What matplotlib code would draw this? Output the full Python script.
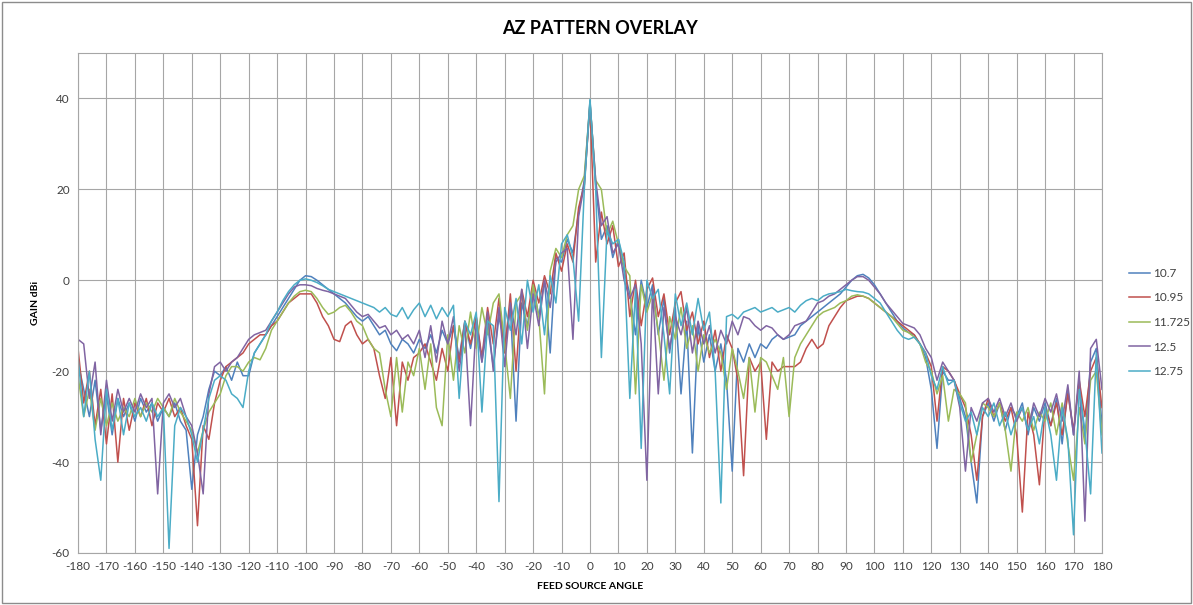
import numpy as np
import matplotlib
matplotlib.use("Agg")
import matplotlib.pyplot as plt
from matplotlib.patches import Rectangle

# ---------------- data ----------------
angles = list(range(-180, 181, 2))
series_names = ["10.7", "10.95", "11.725", "12.5", "12.75"]
series_colors = ["#4F81BD", "#C0504D", "#9BBB59", "#8064A2", "#4BACC6"]

gain_10_7 = [
    -18, -24, -30, -22, -33,   -25, -34, -26, -30, -27,
    -31, -26, -29, -27, -31,   -28, -30, -27, -31, -33,
    -46, -34, -30, -24, -20,   -21, -19, -22, -18, -21,
    -21, -16, -14, -12, -10,   -8, -6, -4, -2, 0,
    1, 0.8, 0, -1, -2,         -3, -4, -5, -6.5, -8,
    -9, -8, -10, -12, -11,     -14, -15.5, -13, -14, -16,
    -13, -15, -12, -16, -11,   -14, -10, -17, -9, -15,
    -8, -18, -10, -19, -8,     -14, -6, -31, -5, -10,
    -1, -8, 0, -16, 5,         4, 9, 6, 15, 22,
    39.5, 21, 9, 12, 5,        9, 2, -3, -12, 0,
    -6, -1, -12, -4, -16,      -6, -25, -9, -38, -10,
    -18, -12, -20, -14, -22,   -42, -15, -18, -14, -17,
    -14, -15, -13, -12, -13,   -12.5, -12, -10, -9, -8,
    -7, -6, -5, -4, -3,        -1.5, 0, 1, 1.3, 0.5,
    -1, -3, -5, -7, -9,        -10.5, -11.5, -12, -14, -17,
    -24, -37, -20, -22, -22,   -26, -30, -40, -49, -30,
    -27, -31, -27, -33, -28,   -30, -27, -34, -28, -31,
    -27, -32, -26, -36, -24,   -34, -22, -35, -18, -15,
    -32,
]

gain_10_95 = [
    -15, -27, -20, -32, -24,   -36, -25, -40, -26, -33,
    -27, -30, -26, -32, -27,   -29, -26, -30, -28, -32,
    -35, -54, -32, -35, -27,   -22, -19, -18, -17, -16,
    -14, -13, -12, -12, -10,   -9, -7, -5, -4, -3,
    -3, -3, -5, -8, -10,       -13, -13.5, -10, -9, -12,
    -14, -13, -15, -21, -26,   -17, -32, -18, -22, -17,
    -16, -14, -18, -22, -15,   -20, -10, -18, -9, -14,
    -8, -17, -6, -14, -4,      -16, -3, -20, -2, -8,
    0, -5, 1, -3, 6,           2, 8, 4, 16, 21,
    38.5, 4, 15, 8, 12,        3, 6, -8, 0, -10,
    -2, 0.5, -8, -3, -12,      -5, -2.5, -11, -7, -14,
    -9, -17, -11, -20, -12,    -15, -22, -43, -17, -20,
    -18, -35, -18, -20, -19,   -19, -19, -18, -15, -13,
    -15, -14, -10, -8, -6,     -4.5, -4, -3.5, -3.5, -4,
    -5, -6, -7, -8, -9,        -10, -11, -12, -14, -16,
    -19, -31, -19, -20, -22,   -25, -28, -34, -44, -30,
    -26, -30, -27, -31, -28,   -34, -51, -29, -34, -45,
    -28, -32, -27, -34, -25,   -33, -22, -30, -20, -17,
    -28,
]

gain_11_725 = [
    -21, -30, -24, -33, -26,   -32, -27, -31, -28, -30,
    -26, -30, -27, -29, -26,   -28, -30, -26, -29, -31,
    -33, -38, -33, -29, -27,   -25, -21, -19, -19, -20,
    -18, -17, -17.5, -15, -11, -9, -7, -5, -3.5, -2.5,
    -2.2, -2.5, -4, -6, -7.5,  -7, -6, -5.5, -7, -9,
    -10, -13, -15, -16, -24,   -30, -17, -29, -18, -21,
    -15, -24, -14, -28, -32,   -12, -22, -10, -16, -7,
    -15, -6, -12, -5, -3,      -14, -26, -5, -3, -11,
    -1, -8, -25, 2, 7,         5, 10, 12, 20, 23,
    39, 22, 20, 10, 13,        8, 3, 1, -25, -1,
    -7, -3, -11, -22, -8,      -13, -6, -15, -10, -20,
    -12, -16, -13, -16, -24,   -15, -20, -26, -17, -29,
    -17, -18, -21, -24, -17,   -30, -17, -14, -12, -10,
    -8, -7, -6.5, -6, -5,      -4.5, -3.5, -3.2, -3.5, -4,
    -5, -6, -7, -8, -9.5,      -11, -11.5, -12.5, -14, -18,
    -20, -25, -21, -31, -24,   -25, -27, -40, -34, -27,
    -28, -30, -27, -33, -42,   -29, -31, -28, -33, -29,
    -31, -27, -34, -27, -36,   -44, -28, -36, -22, -20,
    -34,
]

gain_12_5 = [
    -13, -14, -26, -18, -34,   -22, -31, -24, -29, -26,
    -29, -25, -28, -26, -47,   -27, -25, -28, -26, -30,
    -32, -38, -47, -25, -19,   -18, -20, -18, -17, -15,
    -13, -12, -11.5, -11, -9,  -7, -5, -3, -1.5, -1,
    -1, -1.2, -1.8, -2.2, -2.5, -3, -3.5, -4, -5.5, -7,
    -8, -7.5, -9, -10.5, -10,  -12, -11, -13, -12, -14,
    -11, -17, -10, -18, -9,    -14, -8, -20, -10, -32,
    -9, -18, -7, -20, -6,      -19, -5, -12, -2, -15,
    -3, -10, 0, -6, 4,         6, 7, -13, 14, 21,
    39, 22, 12, 14, 6,         8, 0, -4, -1, -14,
    -44, -2, -25, -6, -15,     -8, -12, -6, -16, -9,
    -14, -10, -16, -11, -14,   -9, -12, -8, -8.5, -10,
    -11, -10, -10.5, -12, -13, -12, -10, -9.5, -9, -7,
    -5, -4.5, -3.5, -3, -2,    -1, 0, 0.8, 0.8, 0,
    -1.5, -3, -5, -6.5, -8,    -9.5, -10, -10.5, -12, -15,
    -17, -22, -18, -20, -22,   -28, -42, -28, -31, -27,
    -26, -29, -26, -30, -27,   -31, -28, -33, -27, -30,
    -26, -29, -25, -31, -23,   -34, -20, -53, -15, -13,
    -24,
]

gain_12_75 = [
    -17, -30, -20, -35, -44,   -24, -33, -26, -34, -27,
    -30, -28, -31, -27, -30,   -28, -59, -32, -28, -30,
    -34, -40, -33, -26, -22,   -21, -22, -25, -26, -28,
    -20, -16, -14, -12, -9,    -7, -4.5, -2.5, -1, 0,
    0.3, 0, -0.5, -1.2, -2,    -2.5, -3, -3.5, -4, -4.5,
    -5, -5.5, -6, -7, -6,      -7.5, -8, -6, -8.5, -6.5,
    -5, -8, -5.5, -8.5, -6,    -8, -5.5, -26, -9, -12,
    -7, -29, -9, -10, -48.7,   -6, -11, -4, -14, 0,
    -7, -1, -12, 1, -5,        8, 10, 5, -9, 20,
    39.8, 20, -17, 11, 8,      9, 4, -26, -2, -37,
    0, -4, -2, -12, -25,       -3, -10, -5, -12, -4,
    -11, -7, -20, -49, -8,     -7.5, -8.5, -7, -6.5, -6,
    -7, -6.5, -6, -7, -6.5,    -6, -7, -5.5, -4.5, -4,
    -4.5, -3.5, -3, -2.8, -2.5, -2, -2.3, -2.5, -2.6, -3,
    -4, -5, -7, -9, -11,       -12.5, -13, -12.5, -14, -16,
    -21, -24, -19, -23, -22,   -27, -31, -29, -34, -28,
    -30, -27, -32, -29, -34,   -30, -28, -33, -30, -36,
    -28, -34, -44, -28, -35,   -56, -24, -33, -47, -16,
    -38,
]

all_series = [gain_10_7, gain_10_95, gain_11_725, gain_12_5, gain_12_75]

x_ticks = list(range(-180, 181, 10))
y_ticks = [-60, -40, -20, 0, 20, 40]

title_text = "AZ PATTERN OVERLAY"
x_label = "FEED SOURCE ANGLE"
y_label = "GAIN dBi"

# ---------------- plot ----------------
plt.rcParams["font.family"] = ["Lato", "DejaVu Sans"]
plt.rcParams["axes.unicode_minus"] = False

fig = plt.figure(figsize=(11.93, 6.05), dpi=100)
ax = fig.add_axes([0.0654, 0.086, 0.8583, 0.8264])

for name, color, vals in zip(series_names, series_colors, all_series):
    ax.plot(angles, vals, color=color, lw=1.1, label=name, solid_joinstyle="round")

ax.set_xlim(-180, 180)
ax.set_ylim(-60, 50)
ax.set_xticks(x_ticks)
ax.set_yticks(y_ticks)
ax.tick_params(axis="both", length=0, labelsize=8.5, colors="#404040", pad=6)
ax.grid(True, color="#A6A6A6", lw=0.8)
ax.set_axisbelow(True)
for s in ax.spines.values():
    s.set_color("#A6A6A6")
    s.set_linewidth(0.8)

ax.set_xlabel(x_label, fontsize=7.5, fontweight="bold", color="#000000", labelpad=7)
ax.set_ylabel(y_label, fontsize=7.5, fontweight="bold", color="#000000", labelpad=8)

fig.text(0.503, 0.953, title_text, ha="center", va="center",
         fontsize=13, fontweight="bold", color="#000000")

leg = ax.legend(loc="upper left", bbox_to_anchor=(0.942, 0.565),
                bbox_transform=fig.transFigure, frameon=False,
                fontsize=8.5, handlelength=1.8, handletextpad=0.3,
                labelspacing=1.15, borderaxespad=0)
for t in leg.get_texts():
    t.set_color("#404040")

fig.patches.append(Rectangle((0.002, 0.003), 0.996, 0.994, transform=fig.transFigure,
                             fill=False, edgecolor="#8C8C8C", lw=1.0))

fig.savefig("out.png", dpi=100)
